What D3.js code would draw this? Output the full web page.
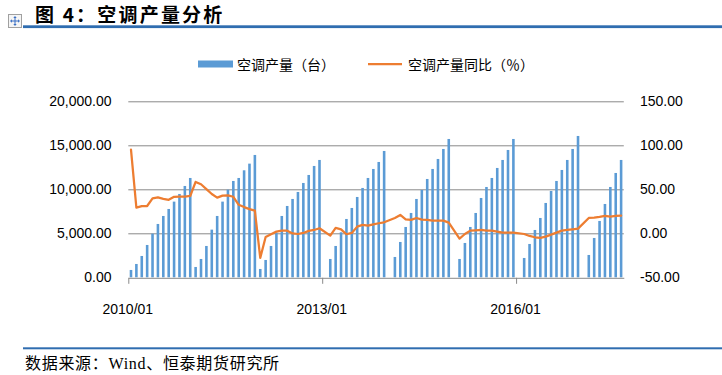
<!DOCTYPE html>
<html>
<head>
<meta charset="utf-8">
<script src="https://cdn.jsdelivr.net/npm/d3@7"></script>
<style>
  html, body { margin: 0; padding: 0; background: #ffffff; }
  svg { display: block; }
</style>
</head>
<body>
<svg id="chart" width="722" height="375"></svg>
<script>
// ---------------- data ----------------
const years = [2010, 2011, 2012, 2013, 2014, 2015, 2016, 2017];
const lastMonthOfLastYear = 8;

// 空调产量（台）cumulative monthly values (null = no data)
const prod2010 = [833, 1515, 2424, 3674, 4962, 6061, 6970, 7765, 8600, 9470, 10379, 11288];
const prod2011 = [1174, 2083, 3561, 5417, 6970, 8600, 9962, 10947, 11288, 12159, 12917, 13902];
const prod2012 = [947, 1970, 3561, 5076, 6970, 8106, 8902, 9697, 10720, 11629, 12652, 13334];
const prod2013 = [null, 2083, 3561, 5114, 6629, 7879, 9129, 10152, 11288, 12311, 13106, 14356];
const prod2014 = [null, 2311, 4015, 5720, 7311, 8902, 9924, 11174, 12311, 13447, 14583, 15720];
const prod2015 = [null, 2083, 3902, 5720, 7311, 9015, 10265, 11288, 12425, 13334, 14470, 15720];
const prod2016 = [null, 2197, 3788, 5379, 6743, 8448, 9811, 10947, 12197, 13334, 14583, 16060];
const prod2017 = [null, 2538, 4470, 6402, 8333, 10265, 11856, 13334];

// 空调产量同比（%）
const yoy2010 = [95, 29.2, 30.8, 31, 39.6, 40.8, 39.2, 38.1, 41.5, 41.7, 41.7, 42.4];
const yoy2011 = [58.4, 55.7, 50.2, 44.7, 40.5, 42.8, 43.1, 41.5, 32.4, 29.8, 27.5, 25.8];
const yoy2012 = [-28, -4.2, -1, 1.9, 3.0, 3.0, -0.2, -0.8, 0.4, 2.7, 3.8, 5.7];
const yoy2013 = [null, -2.7, 6.1, 4.5, -1.1, 0.4, 7.6, 9.5, 8.7, 10.2, 11.4, 12.5];
const yoy2014 = [null, 17.4, 20.8, 15.9, 15.2, 17.4, 15.5, 15.2, 14.4, 14.4, 14.4, 12.1];
const yoy2015 = [null, -6.1, -0.8, 3.0, 3.4, 3.8, 3.0, 3.0, 1.9, 0.8, 0.8, 0.8];
const yoy2016 = [null, -0.8, -3.0, -4.5, -5.3, -3.8, -1.5, 0.8, 3.0, 3.8, 4.5, 5.3];
const yoy2017 = [null, 17.4, 17.8, 18.6, 19.7, 18.9, 19.7, 20.1];

const leftTicks = [0, 5000, 10000, 15000, 20000];
const rightTicks = [-50, 0, 50, 100, 150];
const xTickLabels = ["2010/01", "2013/01", "2016/01"];

const titleText = "图 4：空调产量分析";
const seriesNames = ["空调产量（台）", "空调产量同比（％）"];
const sourceText = "数据来源：Wind、恒泰期货研究所";

// ---------------- build table ----------------
const months = [];
years.forEach((y, yi) => {
  const nm = yi === years.length - 1 ? lastMonthOfLastYear : 12;
  for (let m = 1; m <= nm; m++) months.push(y + "/" + String(m).padStart(2, "0"));
});
const production = [].concat(prod2010, prod2011, prod2012, prod2013, prod2014, prod2015, prod2016, prod2017);
const yoy = [].concat(yoy2010, yoy2011, yoy2012, yoy2013, yoy2014, yoy2015, yoy2016, yoy2017);
const table = months.map((m, i) => ({ month: m, i: i, prod: production[i], yoy: yoy[i] }));

// ---------------- layout ----------------
const svg = d3.select("#chart");
const plotL = 128.3, plotR = 623.8, plotT = 101.3, plotB = 277.3;
const blue = "#5B9BD5", orange = "#ED7D31", gridC = "#898989", ruleC = "#2F6DB0";

const x = d3.scaleBand().domain(months).range([plotL, plotR]).paddingInner(0.52).paddingOuter(0.26);
const xi = d3.scaleLinear().domain([0, months.length]).range([plotL, plotR]);
const yL = d3.scaleLinear().domain([0, 20000]).range([plotB, plotT]);
const yR = d3.scaleLinear().domain([-50, 150]).range([plotB, plotT]);

// title
svg.append("text").attr("x", 35).attr("y", 22.3)
  .style("font-family", "'Noto Sans CJK SC', sans-serif")
  .style("font-weight", "bold").style("font-size", "19px")
  .style("letter-spacing", "2.2px")
  .attr("fill", "#000").text(titleText);

// move-handle icon
const ic = svg.append("g").attr("transform", "translate(8.5,14.5)");
ic.append("rect").attr("width", 13).attr("height", 13).attr("fill", "#f5f5f5").attr("stroke", "#a0a0a0");
ic.append("path").attr("d", "M6.5,2.5V10.5M2.5,6.5H10.5").attr("stroke", "#3a6fc4").attr("stroke-width", 1);
ic.append("path").attr("d", "M6.5,1.5L4.8,3.4H8.2Z M6.5,11.5L4.8,9.6H8.2Z M1.5,6.5L3.4,4.8V8.2Z M11.5,6.5L9.6,4.8V8.2Z")
  .attr("fill", "#3a6fc4");

// rules
svg.append("rect").attr("x", 23).attr("y", 25.3).attr("width", 699).attr("height", 2.8).attr("fill", ruleC);
svg.append("rect").attr("x", 23).attr("y", 347.3).attr("width", 699).attr("height", 2).attr("fill", ruleC);

// source
svg.append("text").attr("x", 25).attr("y", 363)
  .attr("dominant-baseline", "central")
  .style("font-family", "'Liberation Serif', 'Noto Sans CJK SC', serif")
  .style("font-size", "16px").style("letter-spacing", "0.7px")
  .attr("fill", "#000").text(sourceText);

// legend
const lg = svg.append("g");
lg.append("rect").attr("x", 198).attr("y", 60.5).attr("width", 35).attr("height", 7).attr("fill", blue);
lg.append("text").attr("x", 237).attr("y", 64).attr("dominant-baseline", "central")
  .style("font-family", "'Noto Sans CJK SC', sans-serif").style("font-size", "14px")
  .attr("fill", "#000").text(seriesNames[0]);
lg.append("line").attr("x1", 368).attr("x2", 402).attr("y1", 64).attr("y2", 64)
  .attr("stroke", orange).attr("stroke-width", 2.25);
lg.append("text").attr("x", 408).attr("y", 64).attr("dominant-baseline", "central")
  .style("font-family", "'Noto Sans CJK SC', sans-serif").style("font-size", "14px")
  .attr("fill", "#000").text(seriesNames[1]);

// gridlines
svg.append("g").selectAll("line").data(leftTicks.filter(d => d !== 0)).join("line")
  .attr("x1", plotL).attr("x2", plotR)
  .attr("y1", d => yL(d) + 0.5).attr("y2", d => yL(d) + 0.5)
  .attr("stroke", gridC).attr("stroke-width", 1);

// left axis labels
const fmtL = d3.format(",.2f");
svg.append("g").selectAll("text").data(leftTicks).join("text")
  .attr("x", 111.5).attr("y", d => yL(d)).attr("text-anchor", "end").attr("dominant-baseline", "central")
  .style("font-family", "'Liberation Sans', Arial, sans-serif").style("font-size", "14px")
  .attr("fill", "#000").text(d => fmtL(d));

// right axis labels
const fmtR = d3.format(".2f");
svg.append("g").selectAll("text").data(rightTicks).join("text")
  .attr("x", 640).attr("y", d => yR(d)).attr("text-anchor", "start").attr("dominant-baseline", "central")
  .style("font-family", "'Liberation Sans', Arial, sans-serif").style("font-size", "14px")
  .attr("fill", "#000").text(d => fmtR(d).replace("\u2212", "-"));

// bars
svg.append("g").selectAll("rect").data(table.filter(d => d.prod != null)).join("rect")
  .attr("x", d => x(d.month)).attr("width", x.bandwidth())
  .attr("y", d => yL(d.prod)).attr("height", d => yL(0) - yL(d.prod))
  .attr("fill", blue);

// x axis
const xAxis = d3.axisBottom(xi)
  .tickValues(xTickLabels.map(l => months.indexOf(l)))
  .tickFormat(i => months[i])
  .tickSizeInner(6).tickSizeOuter(0).tickPadding(20);
const gx = svg.append("g").attr("transform", `translate(0,${plotB + 0.5})`).call(xAxis);
gx.select(".domain").attr("stroke", gridC);
gx.selectAll(".tick line").attr("stroke", gridC);
gx.selectAll(".tick text")
  .attr("dx", -1)
  .style("font-family", "'Liberation Sans', Arial, sans-serif").style("font-size", "14px")
  .attr("fill", "#000");

// line
const lineData = table.filter(d => d.yoy != null);
const line = d3.line().x(d => x(d.month) + x.bandwidth() / 2).y(d => yR(d.yoy));
svg.append("path").datum(lineData).attr("d", line)
  .attr("fill", "none").attr("stroke", orange).attr("stroke-width", 2.25)
  .attr("stroke-linejoin", "round").attr("stroke-linecap", "round");
</script>
</body>
</html>
